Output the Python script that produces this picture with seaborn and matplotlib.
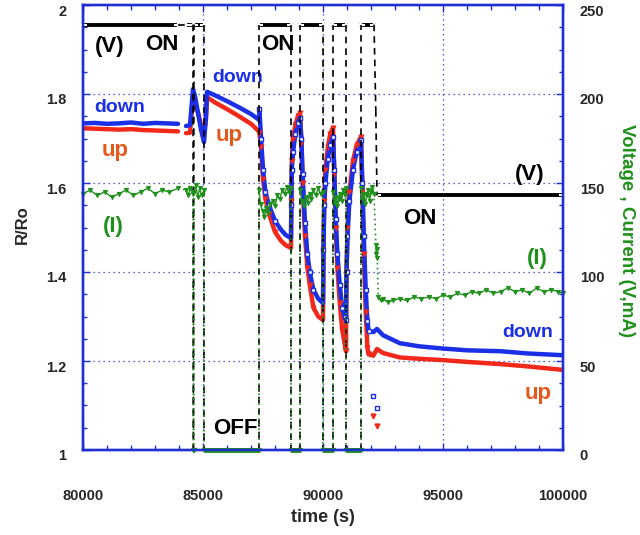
import matplotlib
matplotlib.use("Agg")
import matplotlib.pyplot as plt
from matplotlib.ticker import FixedLocator, MultipleLocator, FixedFormatter
from matplotlib.transforms import ScaledTranslation
import numpy as np
import pandas as pd
import seaborn as sns

sns.set_style("white")
plt.rcParams["font.family"] = ["Liberation Sans", "DejaVu Sans"]
plt.rcParams["font.weight"] = "bold"

FRAME = "#1f2fd0"
BLUE = "#1a2fe6"
RED = "#f2281a"
UP_TXT = "#e35a1c"
GREEN = "#20901c"

# ---------------- data ----------------
x_ticks = [80000, 85000, 90000, 95000, 100000]
x_ticklabels = ["80000", "85000", "90000", "95000", "100000"]
r_ticks = [1.0, 1.2, 1.4, 1.6, 1.8, 2.0]
r_ticklabels = ["1", "1.2", "1.4", "1.6", "1.8", "2"]
vi_ticks = [0, 50, 100, 150, 200, 250]
vi_ticklabels = ["0", "50", "100", "150", "200", "250"]

# resistance ratio: sample times per phase, shared by both sensors
hold_t = [80000, 80500, 81000, 81500, 82000, 82500, 83000, 83500, 83958]
pulse_t = [84292, 84458, 84583, 84667, 84750, 84833, 84917, 85042]
relax_t = [85125, 85167, 85500, 86000, 86500, 87000, 87333]
drop1_t = [87350, 87420, 87500, 87600, 87750, 88000, 88250, 88450, 88667]
rise1_t = [88680, 88700, 88750, 88850, 88950, 89042]
drop2_t = [89100, 89150, 89250, 89350, 89450, 89600, 89800, 90000]
rise2_t = [90020, 90050, 90100, 90200, 90300, 90417]
drop3_t = [90470, 90530, 90600, 90700, 90800, 90900, 90958]
rise3_t = [90980, 91020, 91100, 91250, 91400, 91583]
drop4_t = [91640, 91700, 91780, 91850, 91900, 92100, 92250, 92500, 93200,
           94000, 95000, 96000, 97400, 98500, 100000]

down_hold = [1.734, 1.735, 1.733, 1.734, 1.736, 1.733, 1.735, 1.734, 1.733]
down_pulse = [1.728, 1.730, 1.811, 1.795, 1.770, 1.745, 1.720, 1.692]
down_relax = [1.750, 1.805, 1.797, 1.784, 1.770, 1.755, 1.742]
down_drop1 = [1.766, 1.700, 1.630, 1.580, 1.550, 1.515, 1.495, 1.483, 1.476]
down_rise1 = [1.550, 1.630, 1.670, 1.710, 1.735, 1.746]
down_drop2 = [1.700, 1.620, 1.510, 1.440, 1.400, 1.360, 1.340, 1.330]
down_rise2 = [1.450, 1.550, 1.600, 1.655, 1.685, 1.704]
down_drop3 = [1.630, 1.520, 1.440, 1.370, 1.320, 1.300, 1.292]
down_rise3 = [1.400, 1.480, 1.560, 1.630, 1.670, 1.697]
down_drop4 = [1.600, 1.480, 1.360, 1.290, 1.268, 1.265, 1.272, 1.258, 1.240,
              1.233, 1.228, 1.224, 1.222, 1.217, 1.213]

up_hold = [1.723, 1.722, 1.721, 1.720, 1.721, 1.719, 1.718, 1.717, 1.716]
up_pulse = [1.712, 1.713, 1.796, 1.780, 1.765, 1.750, 1.730, 1.710]
up_relax = [1.745, 1.793, 1.781, 1.766, 1.750, 1.733, 1.716]
up_drop1 = [1.712, 1.680, 1.610, 1.565, 1.530, 1.490, 1.470, 1.460, 1.454]
up_rise1 = [1.560, 1.650, 1.700, 1.730, 1.750, 1.757]
up_drop2 = [1.690, 1.600, 1.480, 1.410, 1.370, 1.320, 1.300, 1.292]
up_rise2 = [1.450, 1.560, 1.630, 1.680, 1.710, 1.724]
up_drop3 = [1.620, 1.500, 1.410, 1.330, 1.270, 1.240, 1.222]
up_rise3 = [1.400, 1.500, 1.580, 1.650, 1.685, 1.704]
up_drop4 = [1.580, 1.440, 1.310, 1.230, 1.215, 1.212, 1.227, 1.218, 1.208,
            1.205, 1.202, 1.198, 1.193, 1.188, 1.180]

# isolated readings just after the last switch
stray_t = [92083, 92250]
stray_down = [1.121, 1.094]
stray_up = [1.076, 1.054]

# applied voltage: constant-level segments (start, end, volts)
v_start = [80000, 84292, 84600, 84625, 85042, 87333, 88667, 89042, 90000,
           90417, 90958, 91583, 92200, 92250]
v_end = [83958, 84583, 84600, 85042, 87333, 88667, 89042, 90000, 90417,
         90958, 91583, 92125, 92200, 100000]
v_level = [239, 239, 0, 239, 0, 239, 0, 239, 0, 239, 0, 239, 191, 143]

# current (mA), one list per recorded segment
i_times = [
    [80000, 80300, 80600, 80900, 81200, 81500, 81800, 82100, 82400, 82700,
     83000, 83300, 83600, 83958],
    [84292, 84380, 84470, 84583],
    [84600, 84612],
    [84625, 84700, 84780, 84860, 84940, 85042],
    [85042, 87333],
    [87333, 87400, 87480, 87560, 87640, 87720, 87800, 87900, 88000, 88100,
     88200, 88300, 88400, 88500, 88600, 88667],
    [88667, 89042],
    [89042, 89120, 89200, 89280, 89360, 89440, 89520, 89600, 89700, 89800,
     89900, 90000],
    [90000, 90417],
    [90417, 90480, 90540, 90600, 90660, 90720, 90780, 90840, 90900, 90958],
    [90958, 91583],
    [91583, 91640, 91700, 91760, 91820, 91880, 91940, 92000, 92060, 92125],
    [92200, 92220, 92240, 92260],
    [92300, 92400, 92500, 92700, 92900, 93200, 93500, 93800, 94100, 94400,
     94700, 95000, 95300, 95600, 95900, 96200, 96500, 96800, 97100, 97400,
     97700, 98000, 98300, 98600, 98900, 99200, 99500, 99800, 100000],
]
i_values = [
    [144, 146, 143, 145, 142, 144, 146, 143, 145, 147, 144, 146, 145, 147],
    [146, 143, 147, 144],
    [0, 0],
    [145, 149, 142, 147, 143, 146],
    [0, 0],
    [146, 138, 134, 131, 136, 133, 138, 140, 137, 143, 141, 146, 144, 148,
     145, 147],
    [0, 0],
    [146, 140, 137, 142, 139, 144, 141, 146, 143, 147, 144, 145],
    [0, 0],
    [145, 139, 142, 137, 141, 144, 140, 146, 143, 147],
    [0, 0],
    [147, 141, 144, 138, 143, 146, 140, 145, 148, 144],
    [115, 110, 113, 108],
    [86, 84, 85, 83, 84, 85, 84, 86, 85, 86, 85, 87, 86, 88, 87, 89, 88, 90,
     88, 89, 91, 89, 90, 88, 91, 89, 90, 89, 88],
]

# ---------------- tables ----------------
later_t = (pulse_t + relax_t + drop1_t + rise1_t + drop2_t + rise2_t
           + drop3_t + rise3_t + drop4_t)
down_later = (down_pulse + down_relax + down_drop1 + down_rise1 + down_drop2
              + down_rise2 + down_drop3 + down_rise3 + down_drop4)
up_later = (up_pulse + up_relax + up_drop1 + up_rise1 + up_drop2 + up_rise2
            + up_drop3 + up_rise3 + up_drop4)

r_df = pd.DataFrame({
    "time": hold_t + later_t,
    "down": down_hold + down_later,
    "up": up_hold + up_later,
    "run": [0] * len(hold_t) + [1] * len(later_t),
})

# fast transients, where single readings stand apart
fast_t = (drop1_t[:6] + rise1_t + drop2_t[:6] + rise2_t + drop3_t + rise3_t
          + drop4_t[:5])
fast_down = (down_drop1[:6] + down_rise1 + down_drop2[:6] + down_rise2
             + down_drop3 + down_rise3 + down_drop4[:5])
fast_up = (up_drop1[:6] + up_rise1 + up_drop2[:6] + up_rise2 + up_drop3
           + up_rise3 + up_drop4[:5])
fast_df = pd.DataFrame({"time": fast_t, "down": fast_down, "up": fast_up})

v_df = pd.DataFrame({
    "time": [t for pair in zip(v_start, v_end) for t in pair],
    "volts": [lv for lv in v_level for _ in range(2)],
    "seg": [k for k in range(len(v_level)) for _ in range(2)],
})

i_df = pd.DataFrame({
    "time": [t for seg in i_times for t in seg],
    "mA": [v for seg in i_values for v in seg],
    "seg": [k for k, seg in enumerate(i_times) for _ in seg],
})

# ---------------- figure ----------------
fig = plt.figure(figsize=(6.4, 5.35), dpi=100)
ax = fig.add_axes([83 / 640, 85 / 535, 480 / 640, 445 / 535])
ax2 = ax.twinx()

sns.lineplot(data=r_df, x="time", y="up", units="run", estimator=None,
             sort=False, ax=ax, color=RED, lw=3.2, legend=False)
sns.lineplot(data=r_df, x="time", y="down", units="run", estimator=None,
             sort=False, ax=ax, color=BLUE, lw=3.2, legend=False)
sns.scatterplot(data=fast_df, x="time", y="up", ax=ax, marker="v", s=14,
                color=RED, edgecolor=RED, linewidth=0.5, legend=False,
                zorder=3)
sns.scatterplot(data=fast_df, x="time", y="down", ax=ax, marker="s", s=12,
                facecolor="white", edgecolor=BLUE, linewidth=1.0,
                legend=False, zorder=3)
ax.plot(stray_t, stray_down, ls="none", marker="s", ms=3.5, mec=BLUE,
        mfc="white", mew=1.0)
ax.plot(stray_t, stray_up, ls="none", marker="v", ms=3.5, mec=RED, mfc=RED)

# voltage: solid plateaus, dashed switching transitions
sns.lineplot(data=v_df, x="time", y="volts", units="seg", estimator=None,
             sort=False, ax=ax2, color="black", lw=2.8, marker="+", ms=6,
             mew=1.5, legend=False, clip_on=False)
for k in range(len(v_level) - 1):
    ax2.plot([v_end[k], v_start[k + 1]], [v_level[k], v_level[k + 1]],
             color="black", ls=(0, (4, 3)), lw=1.2, clip_on=False)

# current: noisy samples, dotted transitions
sns.lineplot(data=i_df, x="time", y="mA", units="seg", estimator=None,
             sort=False, ax=ax2, color=GREEN, lw=1.0, marker="v", ms=3,
             mec=GREEN, mfc=GREEN, legend=False, clip_on=False)
for k in range(len(i_times) - 1):
    ax2.plot([i_times[k][-1], i_times[k + 1][0]],
             [i_values[k][-1], i_values[k + 1][0]],
             color=GREEN, ls=(0, (1, 2)), lw=1.2, clip_on=False)
for k, seg in enumerate(i_values):
    if max(seg) == 0:
        ax2.plot(i_times[k], seg, color=GREEN, lw=3.5, clip_on=False,
                 solid_capstyle="butt")

# ---------------- axes styling ----------------
ax.set_xlim(80000, 100000)
ax.set_ylim(1.0, 2.0)
ax2.set_ylim(0, 250)

ax.xaxis.set_major_locator(FixedLocator(x_ticks))
ax.xaxis.set_major_formatter(FixedFormatter(x_ticklabels))
ax.xaxis.set_minor_locator(MultipleLocator(1000))
ax.yaxis.set_major_locator(FixedLocator(r_ticks))
ax.yaxis.set_major_formatter(FixedFormatter(r_ticklabels))
ax.yaxis.set_minor_locator(MultipleLocator(0.05))
ax2.yaxis.set_major_locator(FixedLocator(vi_ticks))
ax2.yaxis.set_major_formatter(FixedFormatter(vi_ticklabels))
ax2.yaxis.set_minor_locator(MultipleLocator(12.5))

ax.tick_params(axis="x", which="both", direction="in", top=True,
               bottom=True, color=FRAME, width=1.0)
ax.tick_params(axis="x", which="major", length=5, pad=28, labelsize=10.5)
ax.tick_params(axis="x", which="minor", length=3.5)
ax.tick_params(axis="y", which="both", direction="in", left=True,
               right=False, color=FRAME, width=1.0)
ax.tick_params(axis="y", which="major", length=5, pad=12, labelsize=10.5)
ax.tick_params(axis="y", which="minor", length=3)
ax2.tick_params(axis="y", which="both", direction="in", right=True,
                color=FRAME, width=1.0)
ax2.tick_params(axis="y", which="major", length=5, pad=12, labelsize=10.5)
ax2.tick_params(axis="y", which="minor", length=3)

for a in (ax, ax2):
    for sp in a.spines.values():
        sp.set_color(FRAME)
        sp.set_linewidth(1.7)
ax.grid(True, which="major", color=FRAME, ls=(0, (1, 3)), lw=0.9)
ax.set_axisbelow(True)

ax.set_xlabel("time (s)", fontsize=13, fontweight="bold")
ax.xaxis.set_label_coords(0.5, -0.132)
ax.set_ylabel("R/Ro", fontsize=12, fontweight="bold", va="center")
ax.yaxis.set_label_coords(-0.127, 0.506)
ax2.set_ylabel("Voltage , Current (V,mA)", fontsize=13.5,
               fontweight="bold", color=GREEN, rotation=270, va="center")
ax2.yaxis.set_label_coords(1.133, 0.494)

# ---------------- annotations ----------------
def note(x, y, s, color, size):
    ax.text(x, y, s, color=color, fontsize=size, fontweight="bold",
            ha="center", va="center")

note(81125, 1.906, "(V)", "black", 16)
note(83292, 1.912, "ON", "black", 16)
note(88125, 1.912, "ON", "black", 16)
note(86458, 1.836, "down", BLUE, 14)
note(81542, 1.769, "down", BLUE, 14)
note(86083, 1.706, "up", UP_TXT, 16)
note(81333, 1.672, "up", UP_TXT, 16)
note(81250, 1.503, "(I)", GREEN, 16)
note(94042, 1.521, "ON", "black", 16)
note(98625, 1.618, "(V)", "black", 16)
note(98917, 1.431, "(I)", GREEN, 16)
note(98542, 1.263, "down", BLUE, 14)
note(98958, 1.127, "up", UP_TXT, 16)
note(86333, 1.049, "OFF", "black", 16)

# numbers on the value axes sit slightly below their ticks
shift = ScaledTranslation(0, -5 / 100, fig.dpi_scale_trans)
for lab in ax.get_yticklabels() + ax2.get_yticklabels():
    lab.set_transform(lab.get_transform() + shift)

fig.savefig("out.png", dpi=100)
